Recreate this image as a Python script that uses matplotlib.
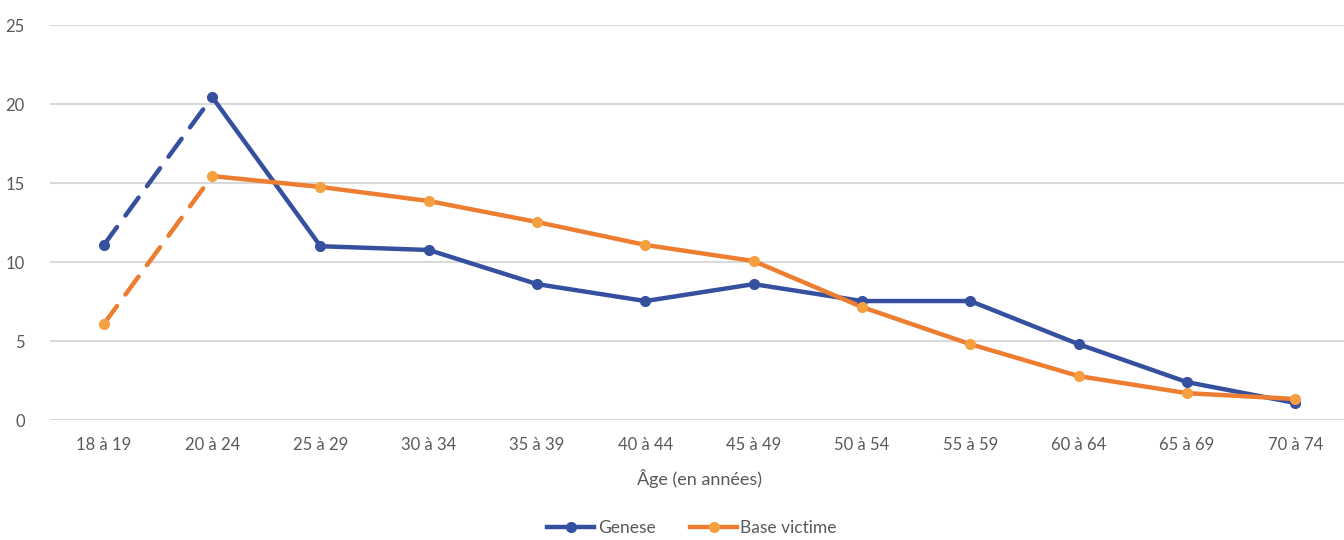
import matplotlib.pyplot as plt
from matplotlib.lines import Line2D

plt.rcParams['font.family'] = ['Lato', 'DejaVu Sans']

ages = ['18 à 19', '20 à 24', '25 à 29', '30 à 34', '35 à 39', '40 à 44',
        '45 à 49', '50 à 54', '55 à 59', '60 à 64', '65 à 69', '70 à 74']
genese = [11.08, 20.44, 11.0, 10.76, 8.6, 7.53, 8.6, 7.53, 7.53, 4.8, 2.4, 1.08]
base_victime = [6.08, 15.44, 14.75, 13.86, 12.53, 11.08, 10.06, 7.15, 4.8, 2.78, 1.7, 1.33]

blue = '#3650A0'
orange = '#ED7D31'
orange_mk = '#F5A040'
grey = '#595959'

fig = plt.figure(figsize=(13.44, 5.4), dpi=100)
ax = fig.add_axes([0.037, 0.2222, 0.967, 0.7315])

x = list(range(len(ages)))
dash = (0, (5, 3.2))

# first segment dashed, rest solid
ax.plot(x[:2], genese[:2], color=blue, lw=3.2, linestyle=dash, dash_capstyle='round', zorder=3)
ax.plot(x[1:], genese[1:], color=blue, lw=3.2, solid_joinstyle='round', zorder=3)
ax.plot(x, genese, linestyle='none', marker='o', ms=7, color=blue, zorder=4)

ax.plot(x[:2], base_victime[:2], color=orange, lw=3.2, linestyle=dash, dash_capstyle='round', zorder=3)
ax.plot(x[1:], base_victime[1:], color=orange, lw=3.2, solid_joinstyle='round', zorder=3)
ax.plot(x, base_victime, linestyle='none', marker='o', ms=7, color=orange_mk, zorder=4)

ax.set_xlim(-0.5, len(ages) - 0.5)
ax.set_ylim(0, 25)
ax.set_yticks(range(0, 26, 5))
ax.set_xticks(x)
ax.set_xticklabels(ages)
ax.grid(axis='y', color='#D9D9D9', lw=1.5)
ax.set_axisbelow(True)
for s in ax.spines.values():
    s.set_visible(False)
ax.tick_params(length=0, labelsize=12, colors=grey, pad=12)
ax.tick_params(axis='y', pad=18)
ax.set_xlabel('Âge (en années)', fontsize=13, color=grey, labelpad=12)

handles = [
    Line2D([], [], color=blue, lw=3.2, marker='o', ms=7),
    Line2D([], [], color=orange, lw=3.2, marker='o', ms=7, mfc=orange_mk, mec=orange_mk),
]
fig.legend(handles, ['Genese', 'Base victime'], loc='lower center',
           bbox_to_anchor=(0.515, -0.022), ncol=2, frameon=False,
           fontsize=12.5, labelcolor=grey, handlelength=2.7, handletextpad=0.2,
           columnspacing=2.0)

fig.savefig('out.png', dpi=100)
